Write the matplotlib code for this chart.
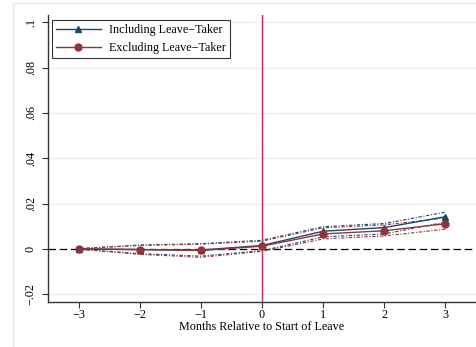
import matplotlib.pyplot as plt
import matplotlib.patches as mpatches
from matplotlib.ticker import FuncFormatter

plt.rcParams['font.family'] = ['Liberation Serif', 'DejaVu Serif']

months = [-3, -2, -1, 0, 1, 2, 3]

# point estimates
incl = [0.0, -0.0003, -0.0005, 0.0015, 0.0078, 0.0094, 0.0142]
excl = [0.0, -0.0003, -0.0007, 0.0012, 0.0066, 0.0080, 0.0111]

# 95% confidence bands
incl_hi = [0.0001, 0.0017, 0.0023, 0.0038, 0.0098, 0.0112, 0.0162]
incl_lo = [-0.0001, -0.0021, -0.0032, -0.0008, 0.0053, 0.0066, 0.0118]
excl_hi = [0.0001, 0.0015, 0.0021, 0.0034, 0.0093, 0.0106, 0.0136]
excl_lo = [-0.0001, -0.0024, -0.0037, -0.0011, 0.0044, 0.0057, 0.0087]

yticks = [-0.02, 0, 0.02, 0.04, 0.06, 0.08, 0.1]

navy = '#1a476f'
maroon = '#90353b'
ci_style = (0, (3, 1.5, 1, 1.5))
fs = 8.7

fig = plt.figure(figsize=(4.76, 3.47), dpi=100)

# graph region frame
fig.patches.append(mpatches.Rectangle((13 / 476, -0.05), 1.1, 1 - 3 / 347 + 0.05,
                                      transform=fig.transFigure, fill=False,
                                      edgecolor='#e3eaee', lw=1.0))

ax = fig.add_axes([48 / 476, 1 - 301.7 / 347, 1 - 48 / 476, (301.7 - 15) / 347])
ax.set_xlim(-3.5, 3.5)
ax.set_ylim(-0.0233, 0.1032)

for y in yticks:
    if y != 0:
        ax.axhline(y, color='#eaf2f3', lw=1.0, zorder=0)

ax.axhline(0, color='black', lw=0.9, ls=(0, (6, 3)), zorder=1)
ax.axvline(0, color='#d6214f', lw=1.0, zorder=1)

ax.plot(months, incl_hi, color=navy, lw=0.8, ls=ci_style, zorder=2)
ax.plot(months, incl_lo, color=navy, lw=0.8, ls=ci_style, zorder=2)
ax.plot(months, excl_hi, color=maroon, lw=0.8, ls=ci_style, zorder=2)
ax.plot(months, excl_lo, color=maroon, lw=0.8, ls=ci_style, zorder=2)

ax.plot(months, incl, color=navy, lw=1.0, marker='^', ms=5,
        label='Including Leave\u2212Taker', zorder=3)
ax.plot(months, excl, color=maroon, lw=1.0, marker='o', ms=5,
        label='Excluding Leave\u2212Taker', zorder=4)

ax.set_xticks(months)
ax.set_xticklabels([str(m).replace('-', '\u2212') for m in months])
ax.set_yticks(yticks)


def ylab(v, pos):
    if abs(v) < 1e-9:
        return '0'
    s = f'{v:.2f}'.rstrip('0')
    s = s.replace('0.', '.')
    return s.replace('-', '\u2212')


ax.yaxis.set_major_formatter(FuncFormatter(ylab))
for lab in ax.get_yticklabels():
    lab.set_rotation(90)
    lab.set_va('center')

ax.tick_params(axis='both', labelsize=fs, length=4, width=0.8, color='#333333')
ax.tick_params(axis='y', pad=4)
ax.tick_params(axis='x', pad=1.5)
ax.set_xlabel('Months Relative to Start of Leave', fontsize=fs, labelpad=0)

for side in ['top', 'right']:
    ax.spines[side].set_visible(False)
for side in ['left', 'bottom']:
    ax.spines[side].set_color('#333333')
    ax.spines[side].set_linewidth(1.0)

leg = ax.legend(loc='upper left', bbox_to_anchor=(0.009, 0.983), fontsize=fs,
                frameon=True, fancybox=False, edgecolor='black',
                handlelength=3.7, borderpad=0.35, labelspacing=0.5,
                handletextpad=0.65, borderaxespad=0)
leg.get_frame().set_linewidth(0.8)

fig.savefig('out.png', dpi=100)
